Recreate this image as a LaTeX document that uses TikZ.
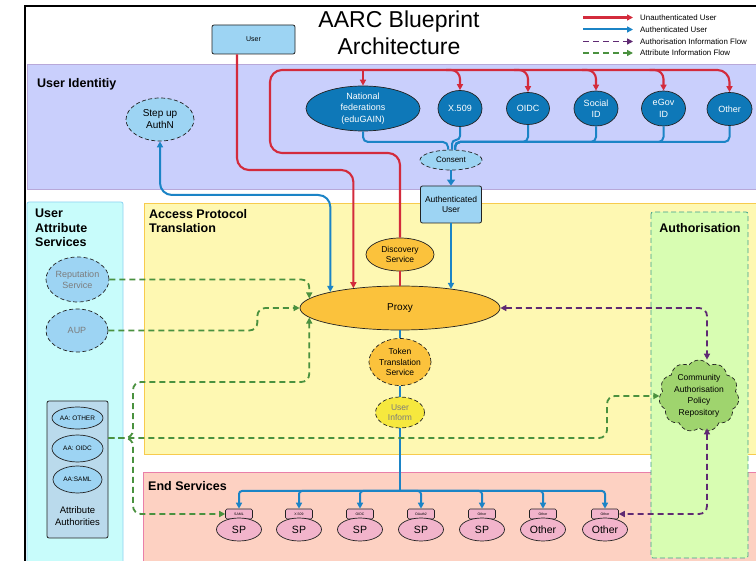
\documentclass[tikz,border=0pt]{standalone}
\usepackage{fontspec}
\setmainfont{Liberation Sans}
\usetikzlibrary{arrows.meta,shapes.geometric,shapes.symbols}
\definecolor{uiband}{HTML}{C9CFFC}
\definecolor{uiborder}{HTML}{B8A8D8}
\definecolor{uasband}{HTML}{C8FCFB}
\definecolor{uasborder}{HTML}{8DD3F2}
\definecolor{apband}{HTML}{FEF8B2}
\definecolor{apborder}{HTML}{F7CB4D}
\definecolor{esband}{HTML}{FDD1C2}
\definecolor{esborder}{HTML}{E97FA9}
\definecolor{azband}{HTML}{D8FDB2}
\definecolor{azborder}{HTML}{3E9E8C}
\definecolor{idpblue}{HTML}{0E78B8}
\definecolor{lblue}{HTML}{9DD4F3}
\definecolor{aabox}{HTML}{BADAEC}
\definecolor{orng}{HTML}{FBC23C}
\definecolor{uinfy}{HTML}{F6E83E}
\definecolor{sppink}{HTML}{F2B4CB}
\definecolor{cloudg}{HTML}{9FD46E}
\definecolor{cred}{HTML}{D32B3C}
\definecolor{cblue}{HTML}{1B84C6}
\definecolor{cpurple}{HTML}{5F2A73}
\definecolor{cgreen}{HTML}{4A913F}
\definecolor{greytext}{HTML}{7C7C7C}
\definecolor{darkline}{HTML}{222222}
\tikzset{
 arrowend/.style={-{Triangle[length=6pt,width=6pt]}},
 arrowboth/.style={{Triangle[length=6pt,width=6pt]}-{Triangle[length=6pt,width=6pt]}},
 redline/.style={draw=cred, line width=2.1pt, rounded corners=12pt},
 blueline/.style={draw=cblue, line width=2pt, rounded corners=10pt},
 purpline/.style={draw=cpurple, line width=1.8pt, dash pattern=on 6pt off 4pt, rounded corners=8pt},
 greenline/.style={draw=cgreen, line width=1.8pt, dash pattern=on 6pt off 4pt, rounded corners=8pt},
 bandlabel/.style={anchor=north west, inner sep=0pt, align=left, font=\fontsize{12.5}{14.5}\selectfont\bfseries},
 ndash/.style={dash pattern=on 4pt off 2.5pt},
 ell/.style={ellipse, inner sep=0pt, draw=darkline, line width=0.7pt, align=center},
 idp/.style={ell, fill=idpblue, text=white, font=\fontsize{9}{11.5}\selectfont},
 lbell/.style={ell, ndash, fill=lblue},
 orell/.style={ell, fill=orng, font=\fontsize{8.5}{10.5}\selectfont},
 boxnode/.style={rectangle, rounded corners=2pt, draw=darkline, line width=0.8pt, fill=lblue, inner sep=0pt, align=center},
 sptab/.style={rectangle, rounded corners=1.5pt, draw=darkline, line width=0.6pt, fill=sppink, minimum width=27pt, minimum height=10pt, inner sep=0pt, font=\fontsize{3.5}{4}\selectfont},
 spnode/.style={ell, fill=sppink, minimum width=45pt, minimum height=23pt, font=\fontsize{10.5}{12}\selectfont},
 legtext/.style={anchor=west, inner sep=0pt, font=\fontsize{7.9}{9}\selectfont},
}
\begin{document}
\begin{tikzpicture}[x=1pt,y=-1pt]
\useasboundingbox (0,0) rectangle (756,561);
\fill[white] (0,0) rectangle (756,561);
% bands
\draw[fill=uiband, draw=uiborder, line width=0.8pt] (27,64) rectangle (757,189);
\draw[fill=uasband, draw=uasborder, line width=0.8pt, rounded corners=2pt] (27,202) rectangle (123,566);
\draw[fill=apband, draw=apborder, line width=0.8pt] (144,203) rectangle (757,454);
\draw[fill=esband, draw=esborder, line width=0.8pt] (143,472) rectangle (757,566);
\draw[fill=azband, draw=azborder, line width=0.8pt, dash pattern=on 5pt off 3pt, rounded corners=2pt] (651,212) rectangle (748,558);
% frame
\draw[line width=2pt] (25,566) -- (25,6) -- (760,6);
% band labels
\node[bandlabel] (lui) at (37,78) {User Identitiy};
\node[bandlabel] (luas) at (35,209) {User\\Attribute\\Services};
\node[bandlabel] (lapt) at (149,209) {Access Protocol\\Translation};
\node[bandlabel] (les) at (148,481) {End Services};
\node[bandlabel, anchor=north] (laz) at (700,223) {Authorisation};
% title
\node[font=\fontsize{23}{27}\selectfont, align=center, inner sep=0pt] (title) at (399,33) {AARC Blueprint\\Architecture};
% legend
\node[legtext] (lg1) at (640,17.5) {Unauthenticated User};
\node[legtext] (lg2) at (640,29.5) {Authenticated User};
\node[legtext] (lg3) at (640,41.5) {Authorisation Information Flow};
\node[legtext] (lg4) at (640,53) {Attribute Information Flow};
\coordinate (lgs1) at (583,17.5);
\coordinate (lgs2) at (583,29.5);
\coordinate (lgs3) at (583,41.5);
\coordinate (lgs4) at (583,53);
\draw[redline, arrowend] (lgs1) -- ([xshift=-7pt]lg1.west);
\draw[blueline, arrowend] (lgs2) -- ([xshift=-7pt]lg2.west);
\draw[purpline, arrowend] (lgs3) -- ([xshift=-7pt]lg3.west);
\draw[greenline, arrowend] (lgs4) -- ([xshift=-7pt]lg4.west);
% nodes
\node[boxnode, minimum width=83pt, minimum height=29pt, font=\fontsize{7}{8}\selectfont] (user) at (253.5,39.5) {User};
\node[lbell, minimum width=68pt, minimum height=43pt, font=\fontsize{10}{12}\selectfont] (stepup) at (160,119.5) {Step up\\AuthN};
\node[idp, minimum width=114pt, minimum height=45pt] (fed) at (363,108.5) {National\\federations\\(eduGAIN)};
\node[idp, minimum width=44pt, minimum height=36pt] (x509) at (460,108.5) {X.509};
\node[idp, minimum width=43pt, minimum height=32pt] (oidc) at (528,108.5) {OIDC};
\node[idp, minimum width=44pt, minimum height=35pt] (social) at (596,108.5) {Social\\ID};
\node[idp, minimum width=44pt, minimum height=35pt] (egov) at (663.5,108.5) {eGov\\ID};
\node[idp, minimum width=45pt, minimum height=33pt] (other) at (729.5,109) {Other};
\node[lbell, minimum width=62pt, minimum height=20pt, font=\fontsize{8}{9}\selectfont] (consent) at (451,160) {Consent};
\node[boxnode, minimum width=61pt, minimum height=37pt, font=\fontsize{8.5}{10.5}\selectfont] (authu) at (451,204.5) {Authenticated\\User};
\node[orell, minimum width=68pt, minimum height=33pt] (disc) at (400,254.5) {Discovery\\Service};
\node[orell, minimum width=200pt, minimum height=44pt, font=\fontsize{10}{12}\selectfont] (proxy) at (400,308) {Proxy};
\node[orell, ndash, minimum width=62pt, minimum height=47pt] (token) at (400,362) {Token\\Translation\\Service};
\node[orell, ndash, fill=uinfy, text=greytext, minimum width=49pt, minimum height=31pt] (uinf) at (400,412.5) {User\\Inform};
\node[lbell, fill=lblue, text=greytext, minimum width=63pt, minimum height=45pt, font=\fontsize{9}{11}\selectfont] (rep) at (77.5,279.5) {Reputation\\Service};
\node[lbell, text=greytext, minimum width=62pt, minimum height=43pt, font=\fontsize{9}{11}\selectfont] (aup) at (77,330.5) {AUP};
\node[boxnode, fill=aabox, minimum width=61pt, minimum height=137pt] (aab) at (77.5,469.5) {};
\node[ell, fill=lblue, minimum width=51pt, minimum height=22pt, font=\fontsize{6.5}{7}\selectfont] (aaother) at (77.5,418) {AA: OTHER};
\node[ell, fill=lblue, minimum width=51pt, minimum height=27pt, font=\fontsize{6.5}{7}\selectfont] (aaoidc) at (77.5,448.5) {AA: OIDC};
\node[ell, fill=lblue, minimum width=49pt, minimum height=27pt, font=\fontsize{6.5}{7}\selectfont] (aasaml) at (77.5,479.5) {AA:SAML};
\node[inner sep=0pt, align=center, font=\fontsize{9.5}{12}\selectfont] (aablabel) at (77.5,516) {Attribute\\Authorities};
\node[cloud, cloud puffs=11, cloud puff arc=110, aspect=1, cloud ignores aspect, draw=darkline, ndash, line width=0.7pt, fill=cloudg, minimum width=80pt, minimum height=72pt, inner sep=0pt, align=center, font=\fontsize{8.5}{11.5}\selectfont] (cloud) at (699,396) {Community\\Authorisation\\Policy\\Repository};
\foreach \i/\xx/\tl/\ml in {1/239/SAML/SP, 2/299/X.509/SP, 3/360/OIDC/SP, 4/421/OAuth2/SP, 5/482/Other/SP, 6/543/Other/Other, 7/605/Other/Other} {
  \node[sptab] (tab\i) at (\xx,514) {\tl};
  \node[spnode] (sp\i) at (\xx,529.5) {\ml};
}
% red connectors
\draw[redline, arrowend] ([xshift=-16.5pt]user.south) -- ([xshift=-16.5pt]user.south |- 0,170) -- (proxy.157 |- 0,170) -- (proxy.157);
\draw[redline, arrowend] (disc.north) -- (disc.north |- 0,153) -- (270,153) -- (270,70) -- (other.north |- 0,70) -- (other.north);
\draw[redline] (disc.south) -- (proxy.north);
\draw[redline, arrowend] (fed.north |- 0,70) -- (fed.north);
\foreach \n in {x509,oidc,social,egov} {
  \draw[redline, arrowend, rounded corners=9pt] ([xshift=-14pt]\n.north |- 0,70) -- (\n.north |- 0,70) -- (\n.north);
}
% blue connectors
\draw[blueline, rounded corners=5pt] (fed.south) -- (fed.south |- 0,142) -- ([xshift=-3pt]consent.north |- 0,142) -- ([xshift=-3pt]consent.north);
\draw[blueline, rounded corners=4pt] (x509.south) -- (x509.south |- 0,140) -- ([xshift=1pt]consent.north |- 0,140) -- ([xshift=1pt]consent.north);
\foreach \n in {oidc,social,egov,other} {
  \draw[blueline, rounded corners=5pt] (\n.south) -- (\n.south |- 0,142) -- ([xshift=4pt]consent.north |- 0,142) -- ([xshift=4pt]consent.north);
}
\draw[blueline, -{Triangle[length=6pt,width=8pt]}] (consent.south) -- (authu.north);
\draw[blueline, arrowend] (authu.south) -- (authu.south |- proxy.20);
\draw[blueline, arrowboth, rounded corners=12pt] (stepup.south) -- (stepup.south |- 0,195) -- (proxy.167 |- 0,195) -- (proxy.167);
\draw[blueline] (proxy.south) -- (token.north);
\draw[blueline] (token.south) -- (uinf.north);
\draw[blueline] (uinf.south) -- (uinf.south |- 0,491);
\foreach \i in {1,...,7} {
  \draw[blueline, arrowend, rounded corners=3pt] (uinf.south |- 0,491) -- (tab\i.north |- 0,491) -- (tab\i.north);
}
% green connectors
\draw[greenline, arrowend] (rep.east) -- (proxy.174.6 |- rep.east) -- (proxy.174.6);
\draw[greenline, arrowend] (aup.east) -- ([xshift=149pt]aup.east) |- (proxy.west);
\draw[greenline, arrowend] (aab.east |- 0,438) -- (133,438) -- (133,382) -- (proxy.186 |- 0,382) -- (proxy.186);
\draw[greenline, arrowend] (aab.east |- 0,438) -- (607,438) |- (cloud.west);
\draw[greenline, arrowend] (aab.east |- 0,438) -- (133,438) |- (tab1.west);
% purple connectors
\draw[purpline, arrowboth] (proxy.east) -| ([xshift=8pt]cloud.north);
\draw[purpline, arrowboth] ([xshift=8pt]cloud.south) |- (tab7.east);
\end{tikzpicture}
\end{document}
